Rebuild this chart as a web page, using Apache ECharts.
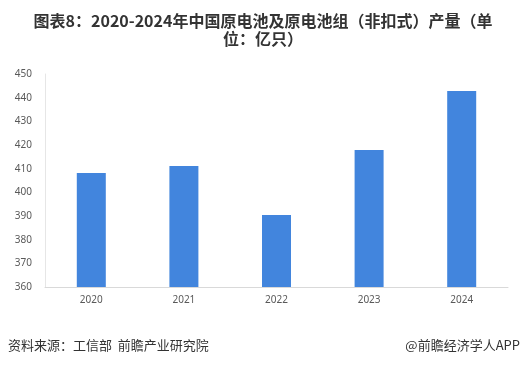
<!DOCTYPE html>
<html><head><meta charset="utf-8">
<script src="https://cdn.jsdelivr.net/npm/echarts@6/dist/echarts.min.js"></script>
<style>html,body{margin:0;padding:0;background:#fff;}#c{width:526px;height:368px;}</style>
</head><body><div id="c"></div>
<script>
const categories = ['2020','2021','2022','2023','2024'];
const values = [408.2, 411.1, 390.4, 417.9, 442.8];
const titleText = '图表8：2020-2024年中国原电池及原电池组（非扣式）产量（单\n位：亿只）';
const sourceText = '资料来源：工信部  前瞻产业研究院';
const brandText = '@前瞻经济学人APP';

const chart = echarts.init(document.getElementById('c'));
chart.setOption({
  animation: false,
  backgroundColor: '#fff',
  title: {
    text: titleText, left: 'center', top: 7,
    textStyle: {fontSize: 16, fontWeight: 'bold', color: '#333', lineHeight: 18,
      fontFamily: '"Noto Sans CJK SC", sans-serif'}
  },
  grid: {left: 45, right: 18, top: 74, bottom: 81},
  xAxis: {
    type: 'category', data: categories,
    axisLine: {lineStyle: {color: '#d9d9d9'}},
    axisTick: {show: false},
    axisLabel: {color: '#595959', fontSize: 10, margin: 8, fontFamily: '"Noto Sans", sans-serif'}
  },
  yAxis: {
    type: 'value', min: 360, max: 450, interval: 10,
    axisLine: {show: true, lineStyle: {color: '#e6e6e6'}},
    axisTick: {show: false},
    splitLine: {show: false},
    axisLabel: {color: '#595959', fontSize: 10, margin: 13, fontFamily: '"Noto Sans", sans-serif'}
  },
  series: [{
    type: 'bar', data: values, barWidth: 29,
    itemStyle: {color: '#4285dd'}
  }],
  graphic: [
    {type: 'text', left: 8, top: 339, style: {text: sourceText, fontSize: 13, fill: '#333', fontFamily: '"Noto Sans CJK SC", sans-serif'}},
    {type: 'text', right: 6, top: 339, style: {text: brandText, fontSize: 13, fill: '#333', fontFamily: '"Noto Sans CJK SC", sans-serif'}}
  ]
});
</script></body></html>
